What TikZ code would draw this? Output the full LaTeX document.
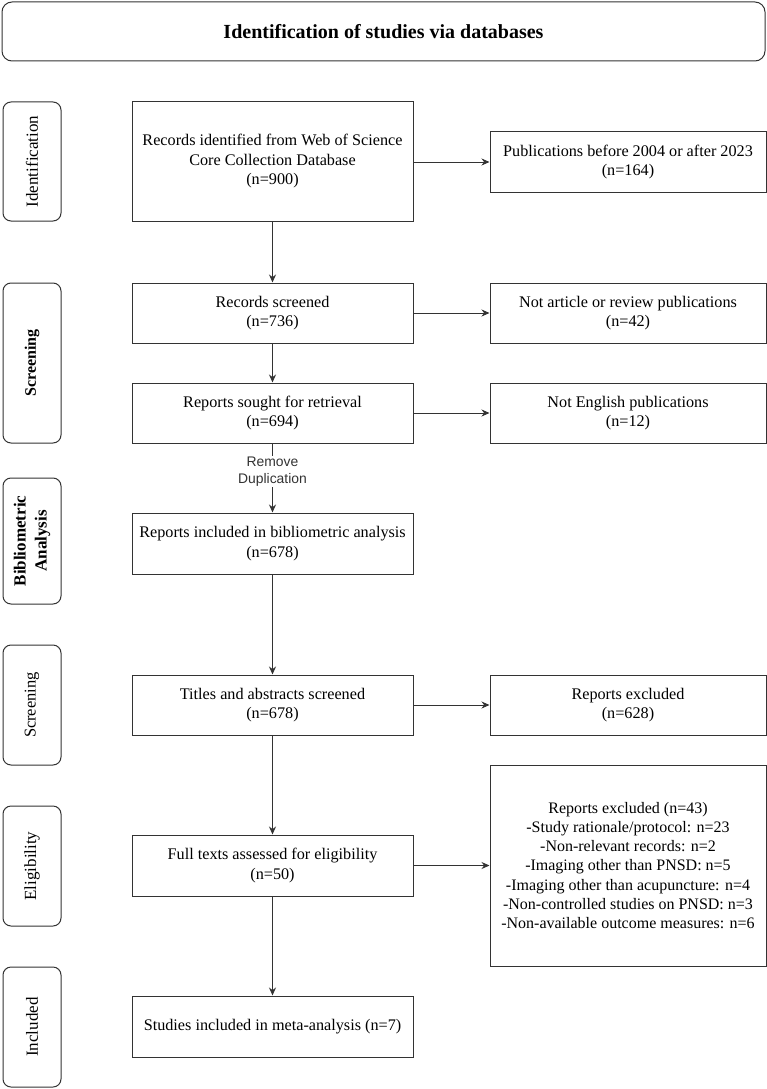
\documentclass[tikz,border=0pt]{standalone}
\usepackage{fontspec}
\setmainfont{Liberation Serif}
\newfontfamily\arialfont{Liberation Sans}
\usetikzlibrary{arrows.meta}
\definecolor{ln}{HTML}{333333}
\begin{document}
\begin{tikzpicture}[x=1pt,y=-1pt,
  box/.style={draw=ln,line width=1pt,rectangle,align=center,inner sep=2pt,
    font=\fontsize{16.2}{19.5}\selectfont,text=black},
  mainbox/.style={box,minimum width=281pt},
  sidebox/.style={box,minimum width=276pt},
  stagebox/.style={draw=ln,line width=1pt,rounded corners=8pt,minimum width=58pt},
  stagetext/.style={rotate=90,align=center,inner sep=0pt,font=\fontsize{17}{20}\selectfont},
  arr/.style={draw=ln,line width=1pt,-{Stealth[length=8pt,width=7pt]}},
  ln/.style={draw=ln,line width=1pt}]
\useasboundingbox (0,0) rectangle (767,1089);
% header
\node[draw=ln,line width=1pt,rounded corners=10pt,minimum width=763pt,minimum height=59pt,
  font=\bfseries\fontsize{20}{24}\selectfont] (hdr) at (383.5,31.5) {Identification of studies via databases};
% stage boxes
\node[stagebox,minimum height=119pt] (s1) at (32,161.5) {};
\node[stagetext] (s1t) at (s1.center) {Identification};
\node[stagebox,minimum height=160pt] (s2) at (32,363) {};
\node[stagetext,font=\bfseries\fontsize{16}{20}\selectfont] (s2t) at (s2.center) {Screening};
\node[stagebox,minimum height=126pt] (s3) at (32,541) {};
\node[stagetext,font=\bfseries\fontsize{17}{21}\selectfont] (s3t) at (s3.center) {Bibliometric\\Analysis};
\node[stagebox,minimum height=120pt] (s4) at (32,705) {};
\node[stagetext,font=\fontsize{16.5}{20}\selectfont] (s4t) at (s4.center) {Screening};
\node[stagebox,minimum height=120pt] (s5) at (32,866) {};
\node[stagetext] (s5t) at (s5.center) {Eligibility};
\node[stagebox,minimum height=120pt] (s6) at (32,1027) {};
\node[stagetext] (s6t) at (s6.center) {Included};
% main column
\node[mainbox,minimum height=119pt] (n1) at (272.5,161.5) {Records identified from Web of Science\\Core Collection Database\\(n=900)};
\node[mainbox,minimum height=60pt] (n2) at (272.5,313) {Records screened\\(n=736)};
\node[mainbox,minimum height=60pt] (n3) at (272.5,413) {Reports sought for retrieval\\(n=694)};
\node[mainbox,minimum height=61pt] (n4) at (272.5,543.5) {Reports included in bibliometric analysis\\(n=678)};
\node[mainbox,minimum height=60pt] (n5) at (272.5,705) {Titles and abstracts screened\\(n=678)};
\node[mainbox,minimum height=61pt] (n6) at (272.5,865.5) {Full texts assessed for eligibility\\(n=50)};
\node[mainbox,minimum height=61pt] (n7) at (272.5,1026.5) {Studies included in meta-analysis (n=7)};
% side column
\node[sidebox,minimum height=60pt] (r1) at (628,162) {Publications before 2004 or after 2023\\(n=164)};
\node[sidebox,minimum height=60pt] (r2) at (628,313) {Not article or review publications\\(n=42)};
\node[sidebox,minimum height=60pt] (r3) at (628,413) {Not English publications\\(n=12)};
\node[sidebox,minimum height=60pt] (r5) at (628,705) {Reports excluded\\(n=628)};
\node[sidebox,minimum height=201pt,font=\fontsize{16}{19.2}\selectfont] (r6) at (628,865.5) {Reports excluded (n=43)\\-Study rationale/protocol: n=23\\-Non-relevant records: n=2\\-Imaging other than PNSD: n=5\\-Imaging other than acupuncture: n=4\\-Non-controlled studies on PNSD: n=3\\-Non-available outcome measures: n=6};
% remove duplication label
\node[align=center,inner sep=1pt,font=\arialfont\fontsize{13.9}{17}\selectfont,text=ln] (dup) at (272.5,471.5) {Remove\\Duplication};
% connectors
\draw[arr] (n1) -- (n2);
\draw[arr] (n2) -- (n3);
\draw[ln] (n3) -- (dup);
\draw[arr] (dup) -- (n4);
\draw[arr] (n4) -- (n5);
\draw[arr] (n5) -- (n6);
\draw[arr] (n6) -- (n7);
\draw[arr] (n1.east |- r1.west) -- (r1.west);
\draw[arr] (n2) -- (r2);
\draw[arr] (n3) -- (r3);
\draw[arr] (n5) -- (r5);
\draw[arr] (n6) -- (r6);
\end{tikzpicture}
\end{document}
